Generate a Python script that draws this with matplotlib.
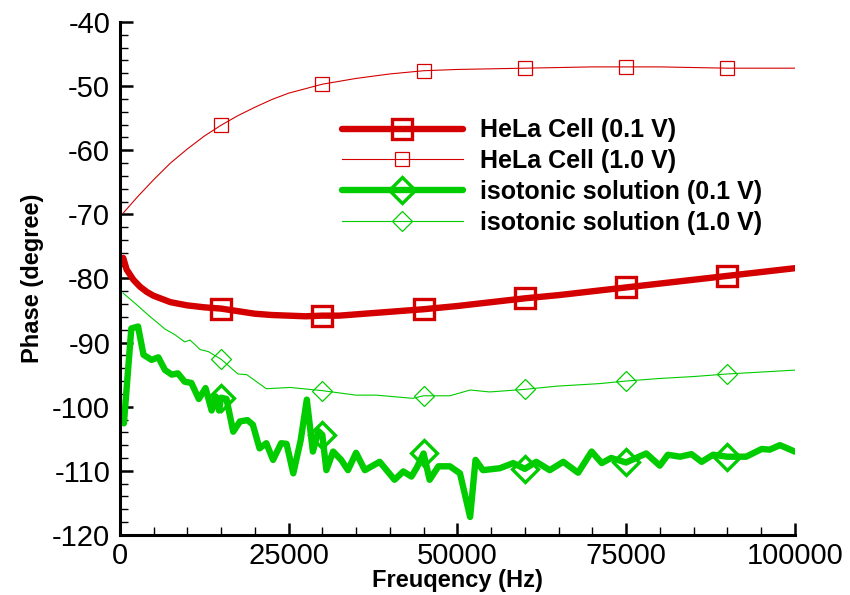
import numpy as np
import matplotlib
matplotlib.use('Agg')
import matplotlib.pyplot as plt

plt.rcParams['font.family'] = ['Liberation Sans', 'DejaVu Sans']
plt.rcParams['axes.unicode_minus'] = False

# HeLa cell, 0.1 V
hela01_f = [500, 1000, 2000, 3000, 4000, 5000, 7500, 10000, 12500, 15000, 17500, 20000,
            22500, 25000, 27500, 30000, 32500, 35000, 37500, 40000, 42500, 45000, 50000,
            55000, 60000, 65000, 70000, 75000, 80000, 85000, 90000, 95000, 100000]
hela01_p = [-76.8, -78.6, -80.2, -81.3, -82.1, -82.7, -83.7, -84.2, -84.5, -84.7, -85.1, -85.5,
            -85.7, -85.8, -85.9, -85.8, -85.8, -85.6, -85.4, -85.2, -85.0, -84.8, -84.3,
            -83.7, -83.1, -82.6, -82.0, -81.4, -80.8, -80.2, -79.6, -79.0, -78.4]

# HeLa cell, 1.0 V
hela10_f = [500, 2500, 5000, 7500, 10000, 12500, 15000, 17500, 20000, 22500, 25000, 27500,
            30000, 35000, 40000, 45000, 50000, 55000, 60000, 65000, 70000, 75000, 80000,
            85000, 90000, 95000, 100000]
hela10_p = [-69.8, -67.4, -64.6, -62.0, -59.8, -57.8, -56.1, -54.6, -53.3, -52.1, -51.1, -50.4,
            -49.7, -48.8, -48.1, -47.6, -47.4, -47.3, -47.2, -47.1, -47.0, -47.0, -47.0,
            -47.1, -47.2, -47.2, -47.2]

# isotonic solution, 0.1 V
iso01_f = [600, 1700, 2700, 3500, 4700, 5700, 6700, 7700, 8600, 9600, 10600, 11700, 12700,
           13600, 14200, 14700, 15000, 15800, 16800, 17800, 18900, 19700, 20700, 21700, 22700,
           23900, 24700, 25700, 26800, 27700, 28600, 29400, 30000, 30600, 31600, 32800, 33800,
           35000, 36300, 38500, 40700, 42000, 43200, 44000, 45000, 45900, 47200, 48900, 50400,
           51900, 52700, 53800, 56300, 58300, 60000, 61700, 63700, 65700, 67900, 69900, 71400,
           72800, 75000, 76500, 78000, 80000, 81200, 83000, 84700, 86200, 87900, 90000, 92800,
           95100, 96300, 97800, 100000]
iso01_p = [-102.6, -87.8, -87.5, -91.9, -92.7, -92.3, -94.3, -95.0, -94.8, -96.1, -96.3, -98.8, -97.1,
           -100.6, -98.4, -100.6, -98.6, -98.8, -103.9, -102.3, -102.1, -102.8, -106.5, -105.7, -108.3,
           -105.7, -105.8, -110.4, -105.2, -98.9, -107.0, -103.8, -104.4, -109.9, -107.0, -108.3, -109.9,
           -107.2, -109.9, -108.6, -111.4, -110.1, -110.9, -109.5, -107.3, -111.4, -109.3, -109.3, -110.4,
           -117.2, -108.3, -109.9, -109.6, -108.8, -109.7, -108.6, -109.9, -108.6, -110.3, -107.0, -108.8,
           -108.0, -108.7, -108.0, -107.3, -109.2, -107.5, -107.8, -107.4, -108.6, -107.5, -107.8, -107.8,
           -106.6, -106.7, -106.0, -107.0]

# isotonic solution, 1.0 V
iso10_f = [500, 2500, 4200, 6700, 8200, 9600, 10400, 11900, 13100, 15000, 17500, 18800, 21700,
           25200, 30000, 35000, 38000, 43400, 45000, 48900, 51900, 54800, 60000, 64700, 71100,
           75000, 80000, 85000, 90000, 95000, 100000]
iso10_p = [-82.3, -84.1, -85.7, -87.9, -88.8, -89.9, -89.6, -91.1, -91.4, -92.6, -94.9, -95.0, -97.2,
           -97.0, -97.5, -98.2, -98.2, -98.7, -98.3, -98.3, -97.4, -97.7, -97.3, -96.8, -96.4,
           -96.0, -95.6, -95.3, -94.9, -94.6, -94.3]

marker_f = [15000, 30000, 45000, 60000, 75000, 90000]

red = '#d40000'
green = '#00cc00'


def marks(f):
    return list(np.nonzero(np.isin(f, marker_f))[0])


fig = plt.figure(figsize=(8.5, 5.95), dpi=100)
ax = fig.add_axes([0.141, 0.101, 0.794, 0.862])

ax.plot(hela01_f, hela01_p, color=red, lw=4.6, marker='s', ms=14, mew=2.4, mfc='none',
        markevery=marks(hela01_f), solid_capstyle='round', label='HeLa Cell (0.1 V)')
ax.plot(hela10_f, hela10_p, color=red, lw=0.8, marker='s', ms=9.5, mew=0.9, mfc='none',
        markevery=marks(hela10_f), label='HeLa Cell (1.0 V)')
ax.plot(iso01_f, iso01_p, color=green, lw=4.6, marker='D', ms=13.5, mew=2.4, mfc='none',
        markevery=marks(iso01_f), solid_capstyle='round', solid_joinstyle='round',
        label='isotonic solution (0.1 V)')
ax.plot(iso10_f, iso10_p, color=green, lw=0.8, marker='D', ms=10.5, mew=0.9, mfc='none',
        markevery=marks(iso10_f), label='isotonic solution (1.0 V)')

ax.set_xlim(0, 100000)
ax.set_ylim(-120, -40)
ax.set_xticks([0, 25000, 50000, 75000, 100000])
ax.set_xticks(np.arange(0, 100001, 5000), minor=True)
ax.set_yticks(np.arange(-120, -39, 10))
ax.set_yticks(np.arange(-120, -39, 2), minor=True)

for s in ['top', 'right']:
    ax.spines[s].set_visible(False)
for s in ['left', 'bottom']:
    ax.spines[s].set_linewidth(2.2)

ax.tick_params(which='major', direction='in', length=9, width=1.8, labelsize=21)
ax.tick_params(which='minor', direction='in', length=5.5, width=1.0)
ax.tick_params(axis='y', which='major', pad=7)
ax.tick_params(axis='x', which='major', pad=5)

ax.set_xlabel('Freuqency (Hz)', fontsize=17, fontweight='bold')
ax.set_ylabel('Phase (degree)', fontsize=17, fontweight='bold')
ax.xaxis.set_label_coords(0.5, -0.066)
ax.yaxis.set_label_coords(-0.113, 0.5)

ax.legend(loc='upper left', bbox_to_anchor=(0.39, 0.818), bbox_transform=fig.transFigure,
          borderaxespad=0, frameon=False, prop={'size': 18, 'weight': 'bold'},
          handlelength=4.85, handletextpad=0.68, labelspacing=0.27, numpoints=1)

plt.savefig('out.png', dpi=100)
plt.close()
